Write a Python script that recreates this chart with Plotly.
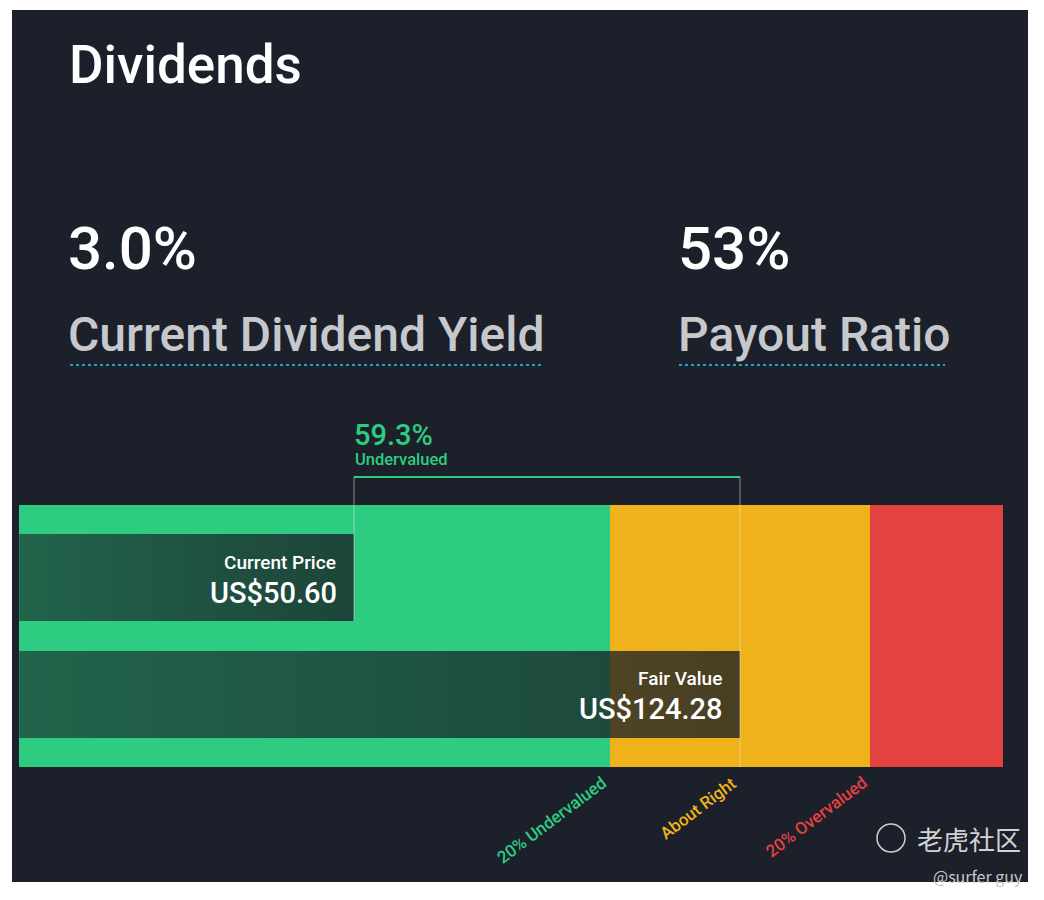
import plotly.graph_objects as go

# valuation data
current_price = 50.60
fair_value = 124.28
axis_min = -13.3
axis_max = 174.5
zone_names = ['20% Undervalued', 'About Right', '20% Overvalued']
zone_factors = [0.8, 1.0, 1.2]
zone_colors = ['#2ECC80', '#F0B21A', '#E44141']

# dividend stats
dividend_yield = '3.0%'
payout_ratio = '53%'

BG = '#1B202B'
ROBOTO = 'Roboto, Inter, sans-serif'
CJK = 'Noto Sans CJK SC'

# page has an 8px body margin, so the figure is a bit smaller
OFF = 8
W, H = 1044 - OFF, 900 - OFF


def px(x):
    return (x - OFF) / W


def py(y):
    return 1 - (y - OFF) / H


# rows: current price on top, fair value below
row_price = 1.0
row_fair = 0.0
bar_w = 0.744
band_c = 0.5
band_w = 2.24
bracket_y = 1.86

fig = go.Figure()

# colored zones
edges = [axis_min, zone_factors[0] * fair_value, zone_factors[2] * fair_value, axis_max]
for i in range(3):
    fig.add_trace(go.Bar(
        y=[band_c], x=[edges[i + 1] - edges[i]], base=[edges[i]],
        width=band_w, orientation='h',
        marker=dict(color=zone_colors[i], line=dict(width=0)),
        hoverinfo='skip', showlegend=False
    ))


def dark_bar(value, row):
    y0, y1 = row - bar_w / 2, row + bar_w / 2
    return go.Scatter(
        x=[axis_min, value, value, axis_min, axis_min],
        y=[y0, y0, y1, y1, y0],
        mode='lines', fill='toself', line=dict(width=0),
        fillgradient=dict(type='horizontal', colorscale=[
            [0, 'rgba(24,30,38,0.60)'], [1, 'rgba(24,30,38,0.78)']]),
        hoverinfo='skip', showlegend=False
    )


fig.add_trace(dark_bar(current_price, row_price))
fig.add_trace(dark_bar(fair_value, row_fair))

# bracket
thin = 'rgba(230,230,230,0.55)'
fig.add_trace(go.Scatter(x=[current_price, current_price], y=[bracket_y, row_price - bar_w / 2],
                         mode='lines', line=dict(color=thin, width=1),
                         hoverinfo='skip', showlegend=False))
fig.add_trace(go.Scatter(x=[fair_value, fair_value], y=[bracket_y, band_c - band_w / 2],
                         mode='lines', line=dict(color=thin, width=1),
                         hoverinfo='skip', showlegend=False))
fig.add_trace(go.Scatter(x=[current_price, fair_value], y=[bracket_y, bracket_y],
                         mode='lines', line=dict(color='#2ECC80', width=2),
                         hoverinfo='skip', showlegend=False))

ann = []
discount = (fair_value - current_price) / fair_value * 100
ann.append(dict(x=current_price, y=2.22, text='%.1f%%' % discount, xanchor='left', yanchor='middle',
                font=dict(family=ROBOTO, size=29, color='#2ECC80', weight=500), xshift=-2))
ann.append(dict(x=current_price, y=2.01, text='Undervalued', xanchor='left', yanchor='middle',
                font=dict(family=ROBOTO, size=16.5, color='#2ECC80', weight=500), xshift=-1))

ann.append(dict(x=current_price, y=1.13, text='Current Price', xanchor='right', yanchor='middle',
                font=dict(family=ROBOTO, size=19, color='white', weight=500), xshift=-16))
ann.append(dict(x=current_price, y=0.87, text='US$%.2f' % current_price, xanchor='right', yanchor='middle',
                font=dict(family=ROBOTO, size=29, color='white', weight=500), xshift=-15))
ann.append(dict(x=fair_value, y=0.14, text='Fair Value', xanchor='right', yanchor='middle',
                font=dict(family=ROBOTO, size=19, color='white', weight=500), xshift=-16))
ann.append(dict(x=fair_value, y=-0.125, text='US$%.2f' % fair_value, xanchor='right', yanchor='middle',
                font=dict(family=ROBOTO, size=29, color='white', weight=500), xshift=-15))

for name, f, c in zip(zone_names, zone_factors, zone_colors):
    ann.append(dict(x=f * fair_value, y=band_c - band_w / 2, text=name, textangle=-37,
                    xanchor='right', yanchor='top', yshift=-3, xshift=3,
                    font=dict(family=ROBOTO, size=17, color=c, weight=500)))

for a in ann:
    a.update(xref='x', yref='y', showarrow=False)

# header texts
hdr = [
    dict(x=67, y=65, text='Dividends', size=53, color='white', weight=500),
    dict(x=66, y=249, text=dividend_yield, size=60, color='white', weight=500),
    dict(x=676, y=249, text=payout_ratio, size=60, color='white', weight=500),
    dict(x=66, y=334, text='Current Dividend Yield', size=48, color='#C6C8CC', weight=500),
    dict(x=676, y=334, text='Payout Ratio', size=48, color='#C6C8CC', weight=500),
]
for h in hdr:
    ann.append(dict(xref='paper', yref='paper', x=px(h['x']), y=py(h['y']),
                    xanchor='left', yanchor='middle', showarrow=False, text=h['text'],
                    font=dict(family=ROBOTO, size=h['size'], color=h['color'], weight=h['weight'])))

# watermark
ann.append(dict(xref='paper', yref='paper', x=px(1023), y=py(838), xanchor='right', yanchor='middle',
                showarrow=False, text='老虎社区', font=dict(family=CJK, size=26, color='#D2D2D2')))
ann.append(dict(xref='paper', yref='paper', x=px(1025), y=py(876), xanchor='right', yanchor='middle',
                showarrow=False, text='@surfer guy', font=dict(family=CJK, size=16, color='#C8C8C8')))

shapes = [
    dict(type='rect', xref='paper', yref='paper', x0=px(12), x1=px(1028),
         y0=py(882), y1=py(10), fillcolor=BG, line=dict(width=0), layer='below'),
    dict(type='line', xref='paper', yref='paper', x0=px(70), x1=px(542),
         y0=py(365), y1=py(365), line=dict(color='#1DA1D2', width=2, dash='dot')),
    dict(type='line', xref='paper', yref='paper', x0=px(679), x1=px(945),
         y0=py(365), y1=py(365), line=dict(color='#1DA1D2', width=2, dash='dot')),
    dict(type='circle', xref='paper', yref='paper', x0=px(877), x1=px(905),
         y0=py(852), y1=py(824), line=dict(color='#CFCFCF', width=1.5)),
]

# axis ranges chosen so the zones sit where they do in the source image
fig.update_layout(
    width=W, height=H,
    margin=dict(l=0, r=0, t=0, b=0),
    paper_bgcolor='white', plot_bgcolor='rgba(0,0,0,0)',
    barmode='overlay', bargap=0,
    xaxis=dict(range=[-15.445, 182.307], domain=[0, 1], visible=False, fixedrange=True),
    yaxis=dict(range=[-1.7564, 5.8675], domain=[0, 1], visible=False, fixedrange=True),
    annotations=ann, shapes=shapes,
    showlegend=False
)

fig.write_html('out.html')
